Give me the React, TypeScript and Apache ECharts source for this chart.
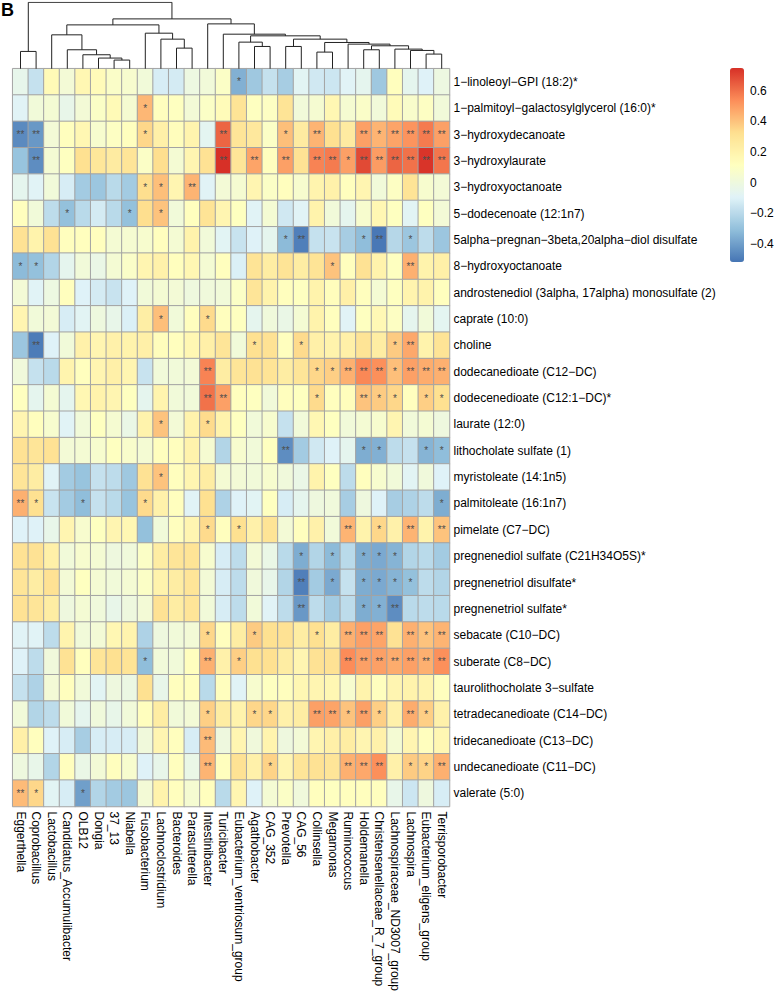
import React, { useEffect, useRef } from "react";
import * as echarts from "echarts";

const columns = [
  "Eggerthella", "Coprobacillus", "Lactobacillus", "Candidatus_Accumulibacter", "OLB12", "Dongia", "37_13",
  "Niabella", "Fusobacterium", "Lachnoclostridium", "Bacteroides", "Parasutterella", "Intestinibacter",
  "Turicibacter", "Eubacterium_ventriosum_group", "Agathobacter", "CAG_352", "Prevotella", "CAG_56",
  "Collinsella", "Megamonas", "Ruminococcus", "Holdemanella", "Christensenellaceae_R_7_group",
  "Lachnospiraceae_ND3007_group", "Lachnospira", "Eubacterium_eligens_group", "Terrisporobacter",
];

const rows = [
  "1−linoleoyl−GPI (18:2)*",
  "1−palmitoyl−galactosylglycerol (16:0)*",
  "3−hydroxydecanoate",
  "3−hydroxylaurate",
  "3−hydroxyoctanoate",
  "5−dodecenoate (12:1n7)",
  "5alpha−pregnan−3beta,20alpha−diol disulfate",
  "8−hydroxyoctanoate",
  "androstenediol (3alpha, 17alpha) monosulfate (2)",
  "caprate (10:0)",
  "choline",
  "dodecanedioate (C12−DC)",
  "dodecenedioate (C12:1−DC)*",
  "laurate (12:0)",
  "lithocholate sulfate (1)",
  "myristoleate (14:1n5)",
  "palmitoleate (16:1n7)",
  "pimelate (C7−DC)",
  "pregnenediol sulfate (C21H34O5S)*",
  "pregnenetriol disulfate*",
  "pregnenetriol sulfate*",
  "sebacate (C10−DC)",
  "suberate (C8−DC)",
  "taurolithocholate 3−sulfate",
  "tetradecanedioate (C14−DC)",
  "tridecanedioate (C13−DC)",
  "undecanedioate (C11−DC)",
  "valerate (5:0)",
];

// correlation values, one array per metabolite (row), in column order
const corr: number[][] = [
  [-0.05, -0.17, 0.15, 0.03, 0.17, 0.14, 0.08, 0.06, 0.02, -0.12, -0.13, -0.01, 0.02, 0.09, -0.35, -0.27, -0.17, -0.25, -0.08, -0.14, -0.15, -0.09, -0.06, -0.27, 0.12, -0.06, -0.1, -0.01],
  [-0.09, 0.02, 0.04, -0.04, 0.03, 0.09, 0.15, 0.05, 0.43, 0.12, 0.11, 0.03, 0.09, 0.14, 0.3, 0.11, 0.1, 0.3, 0.02, 0.05, 0.17, 0.05, 0.08, 0.02, 0.14, 0.07, 0.1, 0.02],
  [-0.46, -0.42, 0.03, 0.12, 0.17, 0.06, 0.1, 0.12, 0.35, 0.22, 0.13, 0.19, -0.07, 0.63, 0.29, 0.27, 0.09, 0.41, 0.25, 0.44, 0.32, 0.25, 0.49, 0.44, 0.48, 0.52, 0.58, 0.49],
  [-0.29, -0.45, 0.04, 0.11, 0.32, 0.28, 0.25, 0.29, 0.09, 0.33, 0.04, 0.18, 0.31, 0.75, 0.29, 0.48, 0.12, 0.49, 0.31, 0.56, 0.58, 0.49, 0.69, 0.5, 0.63, 0.6, 0.74, 0.59],
  [-0.06, -0.09, 0.02, -0.12, -0.26, -0.28, -0.2, -0.26, 0.33, 0.41, 0.18, 0.44, -0.09, 0.03, 0.05, 0.18, 0.09, 0.12, 0.06, 0.19, 0.21, 0.12, 0.18, 0.02, 0.1, 0.3, 0.06, 0.03],
  [0.12, 0.02, -0.19, -0.3, -0.2, -0.13, -0.2, -0.3, 0.33, 0.4, 0.02, 0.12, 0.3, 0.18, 0.11, -0.09, 0.04, -0.14, -0.09, 0.2, 0.02, -0.06, 0.06, 0.17, 0.11, -0.08, 0.11, 0.03],
  [0.31, 0.2, 0.31, 0.12, 0.12, 0.12, 0.04, 0.05, 0.06, 0.12, 0.04, 0.2, 0.02, -0.08, -0.16, -0.1, -0.06, -0.32, -0.49, -0.17, -0.16, -0.25, -0.31, -0.51, -0.21, -0.28, -0.19, -0.28],
  [-0.32, -0.3, -0.22, -0.06, 0.02, -0.03, 0.04, 0.08, 0.18, 0.21, 0.12, 0.17, 0.04, 0.12, -0.11, 0.3, 0.24, 0.3, 0.24, 0.3, 0.4, 0.12, 0.31, 0.2, 0.11, 0.45, 0.2, 0.22],
  [0.03, -0.09, -0.01, 0.12, -0.1, -0.13, -0.16, -0.1, 0.02, 0.04, 0.03, 0.0, 0.01, 0.02, 0.09, 0.29, 0.2, 0.12, 0.11, 0.2, 0.13, 0.22, 0.12, 0.04, 0.11, 0.19, 0.2, 0.12],
  [0.18, 0.02, 0.03, -0.12, -0.08, 0.0, -0.04, -0.11, 0.23, 0.41, 0.02, 0.12, 0.34, 0.12, 0.11, -0.06, 0.01, -0.03, 0.04, 0.2, 0.12, -0.09, 0.11, 0.16, 0.1, -0.06, 0.02, -0.07],
  [-0.28, -0.5, -0.1, 0.02, 0.21, 0.18, 0.21, 0.2, 0.22, 0.13, 0.12, 0.17, 0.22, 0.29, 0.02, 0.32, 0.31, 0.12, 0.34, 0.22, 0.2, 0.22, 0.3, 0.24, 0.38, 0.47, 0.2, 0.3],
  [0.01, -0.17, -0.2, 0.19, 0.12, 0.18, 0.22, 0.18, -0.16, 0.02, 0.02, 0.03, 0.56, 0.24, 0.29, 0.31, 0.3, 0.24, 0.29, 0.35, 0.37, 0.45, 0.55, 0.53, 0.41, 0.49, 0.46, 0.45],
  [0.11, -0.06, 0.04, -0.06, 0.17, 0.2, 0.18, 0.11, -0.06, 0.19, 0.02, 0.02, 0.6, 0.49, 0.12, 0.11, 0.02, 0.12, 0.11, 0.34, 0.12, 0.13, 0.4, 0.38, 0.35, 0.12, 0.37, 0.32],
  [0.18, 0.12, 0.06, -0.09, 0.02, 0.11, 0.05, -0.03, 0.2, 0.4, 0.03, 0.2, 0.34, 0.2, 0.11, 0.02, 0.06, -0.17, 0.02, 0.17, 0.11, 0.02, 0.04, 0.06, 0.18, 0.02, 0.04, 0.0],
  [0.31, 0.29, 0.31, 0.03, 0.04, 0.06, 0.11, 0.07, 0.04, 0.12, 0.12, 0.2, 0.05, -0.22, 0.06, 0.02, 0.11, -0.45, -0.26, -0.14, -0.1, -0.06, -0.36, -0.35, -0.19, -0.17, -0.34, -0.31],
  [0.29, 0.24, -0.09, -0.26, -0.29, -0.17, -0.19, -0.27, 0.31, 0.4, 0.12, 0.18, 0.24, 0.04, 0.03, 0.02, 0.06, 0.01, -0.03, 0.2, 0.11, -0.19, 0.12, 0.06, 0.02, -0.08, 0.01, -0.1],
  [0.45, 0.32, -0.16, -0.26, -0.31, -0.17, -0.2, -0.29, 0.34, 0.21, 0.12, -0.09, 0.32, -0.23, -0.1, -0.08, 0.11, -0.12, -0.06, 0.0, 0.01, -0.25, 0.0, -0.1, -0.25, -0.23, -0.19, -0.36],
  [-0.1, -0.1, -0.04, 0.18, 0.06, 0.11, 0.18, 0.17, -0.3, 0.02, 0.12, 0.18, 0.34, 0.12, 0.32, 0.21, 0.3, 0.03, 0.12, 0.21, 0.02, 0.44, 0.2, 0.35, 0.21, 0.44, 0.2, 0.4],
  [0.31, 0.31, 0.22, 0.02, 0.06, 0.04, 0.0, 0.01, 0.09, 0.24, 0.29, 0.3, 0.06, -0.12, -0.19, 0.03, -0.03, -0.2, -0.36, -0.22, -0.32, -0.2, -0.36, -0.37, -0.34, -0.22, -0.2, -0.26],
  [0.29, 0.24, 0.31, 0.03, 0.11, 0.04, 0.02, 0.04, 0.09, 0.2, 0.24, 0.29, 0.03, -0.12, -0.19, 0.01, -0.04, -0.22, -0.49, -0.26, -0.37, -0.17, -0.36, -0.37, -0.34, -0.3, -0.19, -0.22],
  [0.31, 0.29, 0.24, 0.0, 0.04, 0.01, -0.04, 0.0, 0.03, 0.31, 0.24, 0.29, 0.02, -0.12, -0.19, 0.02, -0.09, -0.19, -0.42, -0.19, -0.26, -0.19, -0.36, -0.35, -0.45, -0.2, -0.19, -0.2],
  [-0.09, -0.09, -0.19, 0.19, 0.02, 0.03, 0.17, 0.19, -0.23, 0.0, 0.02, 0.03, 0.35, 0.12, 0.24, 0.38, 0.32, 0.31, 0.24, 0.32, 0.24, 0.45, 0.49, 0.48, 0.31, 0.45, 0.4, 0.44],
  [-0.1, -0.19, 0.01, 0.31, 0.12, 0.29, 0.32, 0.3, -0.31, 0.02, 0.02, 0.12, 0.45, 0.21, 0.37, 0.32, 0.32, 0.24, 0.18, 0.31, 0.31, 0.54, 0.49, 0.49, 0.46, 0.49, 0.45, 0.53],
  [-0.17, -0.23, 0.03, 0.12, 0.02, -0.08, 0.0, -0.02, 0.32, -0.04, 0.12, 0.12, -0.2, 0.12, -0.09, 0.06, 0.11, 0.12, 0.17, 0.18, 0.17, 0.06, 0.2, 0.12, 0.18, 0.2, 0.19, 0.12],
  [0.02, -0.22, -0.19, 0.02, -0.06, 0.01, -0.04, 0.02, 0.12, 0.24, 0.02, 0.03, 0.37, 0.24, 0.2, 0.35, 0.35, 0.21, 0.24, 0.49, 0.48, 0.4, 0.49, 0.37, 0.21, 0.46, 0.37, 0.21],
  [0.22, 0.12, -0.1, -0.12, -0.25, -0.12, -0.12, -0.12, 0.01, 0.18, 0.12, -0.12, 0.42, 0.0, 0.18, 0.01, 0.19, 0.0, 0.03, 0.18, 0.22, 0.24, 0.18, 0.21, 0.04, 0.18, 0.12, 0.17],
  [0.0, -0.04, -0.22, 0.12, -0.03, 0.03, 0.12, 0.06, -0.1, -0.04, 0.12, -0.03, 0.44, 0.12, 0.31, 0.21, 0.36, 0.18, 0.29, 0.31, 0.29, 0.45, 0.47, 0.53, 0.21, 0.38, 0.36, 0.45],
  [0.42, 0.35, -0.08, -0.12, -0.4, -0.22, -0.26, -0.28, 0.03, 0.2, 0.12, 0.05, 0.12, -0.2, 0.18, -0.1, 0.04, 0.09, 0.01, 0.12, 0.11, 0.12, 0.12, 0.12, -0.04, -0.15, 0.0, -0.12],
];

// significance: number of stars per cell, one string per row, one digit per column
const stars = [
  "0000000000000010000000000000",
  "0000000010000000000000000000",
  "2200000010000200010200212222",
  "0200000000000202020221222222",
  "0000000011020000000000000000",
  "0001000101000000000000000000",
  "0000000000000000012000120100",
  "1100000000000000000010000200",
  "0000000000000000000000000000",
  "0000000001001000000000000000",
  "0200000000000001001000001200",
  "0000000000002000000112221222",
  "0000000000002200000100211011",
  "0000000001001000000000000000",
  "0000000000000000020000110011",
  "0000000001000000000000000000",
  "2100100010000000000000000001",
  "0000000000001010000002010202",
  "0000000000000000001010111000",
  "0000000000000000002010111100",
  "0000000000000000002000112000",
  "0000000000001001000102220212",
  "0000000010002010000002222222",
  "0000000000000000000000000000",
  "0000000000001001100221210210",
  "0000000000002000000000000000",
  "0000000000002000100002220112",
  "2100100000000000000000000000",
];

// column dendrogram merges: [childA, childB, height]; child >= 0 is a column index,
// child < 0 refers to merge number (-child - 1)
const merges: [number, number, number][] = [
  [6, 7, 0.13],
  [5, -1, 0.16],
  [4, -2, 0.21],
  [3, -3, 0.285],
  [2, -4, 0.51],
  [10, 11, 0.31],
  [9, -6, 0.445],
  [8, -7, 0.535],
  [-5, -8, 0.66],
  [15, 16, 0.335],
  [14, -10, 0.4],
  [17, 18, 0.335],
  [19, 20, 0.25],
  [26, 27, 0.22],
  [25, -14, 0.275],
  [24, -15, 0.295],
  [22, 23, 0.285],
  [-17, -16, 0.345],
  [21, -18, 0.37],
  [-13, -19, 0.395],
  [-12, -20, 0.445],
  [-11, -21, 0.495],
  [13, -22, 0.52],
  [12, -23, 0.675],
  [-9, -24, 0.75],
  [0, 1, 0.26],
  [-26, -25, 1.0],
];

const colorbarTicks = [-0.4, -0.2, 0, 0.2, 0.4, 0.6];
const valueMin = -0.52;
const valueMax = 0.75;
const palette = ["#4575B4", "#91BFDB", "#E0F3F8", "#FFFFBF", "#FEE090", "#FC8D59", "#D73027"];

const FONT = "'Liberation Sans', Arial, Helvetica, sans-serif";

export default function App() {
  const ref = useRef<HTMLDivElement>(null);

  useEffect(() => {
    if (!ref.current) return;
    const chart = echarts.init(ref.current, null, { renderer: "svg" });

    const heatData: number[][] = [];
    rows.forEach((_, r) => columns.forEach((_, c) => heatData.push([c, r, corr[r][c]])));

    // dendrogram geometry from merges
    const pos: { x: number; h: number }[] = [];
    const refPos = (k: number) => (k >= 0 ? { x: k + 0.5, h: 0 } : pos[-k - 1]);
    const links: { coords: number[][] }[] = [];
    merges.forEach(([a, b, h]) => {
      const pa = refPos(a);
      const pb = refPos(b);
      pos.push({ x: (pa.x + pb.x) / 2, h });
      links.push({ coords: [[pa.x, pa.h], [pa.x, h], [pb.x, h], [pb.x, pb.h]] });
    });

    const heatLeft = 12.7;
    const heatTop = 68.7;
    const cellW = 15.6;
    const cellH = 26.35;

    chart.setOption({
      animation: false,
      textStyle: { fontFamily: FONT },
      graphic: [
        {
          type: "text",
          left: 1,
          top: 1,
          style: { text: "B", font: `bold 18px ${FONT}`, fill: "#000" },
        },
      ],
      grid: [
        {
          left: heatLeft,
          top: heatTop,
          width: cellW * columns.length,
          height: cellH * rows.length,
          outerBoundsMode: "none",
        },
        {
          left: heatLeft,
          top: 2.3,
          width: cellW * columns.length,
          height: heatTop - 2.3,
          outerBoundsMode: "none",
        },
        {
          left: 730,
          top: 68,
          width: 14,
          height: 194,
          outerBoundsMode: "none",
        },
      ],
      xAxis: [
        {
          type: "category",
          gridIndex: 0,
          data: columns,
          position: "bottom",
          axisLine: { show: false },
          axisTick: { show: false },
          splitLine: { show: false },
          axisLabel: {
            rotate: -90,
            interval: 0,
            margin: 5,
            fontSize: 12,
            color: "#000",
            fontFamily: FONT,
          },
        },
        { type: "value", gridIndex: 1, min: 0, max: columns.length, show: false },
        { type: "value", gridIndex: 2, min: 0, max: 1, show: false },
      ],
      yAxis: [
        {
          type: "category",
          gridIndex: 0,
          data: rows,
          inverse: true,
          position: "right",
          axisLine: { show: false },
          axisTick: { show: false },
          splitLine: { show: false },
          axisLabel: { interval: 0, margin: 4, fontSize: 12, color: "#000", fontFamily: FONT },
        },
        { type: "value", gridIndex: 1, min: 0, max: 1, show: false },
        {
          type: "value",
          gridIndex: 2,
          min: valueMin,
          max: valueMax,
          position: "right",
          axisLine: { show: false },
          axisTick: { show: false },
          splitLine: { show: false },
          axisLabel: {
            customValues: colorbarTicks,
            margin: 6,
            fontSize: 12,
            color: "#000",
            fontFamily: FONT,
            formatter: (v: number) => (Math.abs(v) < 1e-9 ? "0" : v.toFixed(1).replace("-", "−")),
          },
        },
      ],
      visualMap: {
        type: "continuous",
        seriesIndex: 0,
        dimension: 2,
        min: valueMin,
        max: valueMax,
        calculable: false,
        hoverLink: false,
        inRange: { color: palette },
        left: 730,
        top: 68,
        itemWidth: 14,
        itemHeight: 194,
        padding: 0,
        orient: "vertical",
      },
      series: [
        {
          type: "heatmap",
          xAxisIndex: 0,
          yAxisIndex: 0,
          data: heatData,
          silent: true,
          itemStyle: { borderColor: "#a3a3a3", borderWidth: 1 },
          emphasis: { disabled: true },
          label: {
            show: true,
            fontSize: 10,
            color: "#4d4d4d",
            fontFamily: FONT,
            formatter: (p: any) => {
              const s = stars[p.value[1]][p.value[0]];
              return s === "2" ? "**" : s === "1" ? "*" : "";
            },
          },
        },
        {
          type: "lines",
          coordinateSystem: "cartesian2d",
          xAxisIndex: 1,
          yAxisIndex: 1,
          polyline: true,
          silent: true,
          data: links,
          lineStyle: { color: "#222", width: 1, opacity: 1 },
        },
      ],
    });

    return () => chart.dispose();
  }, []);

  return (
    <div
      ref={ref}
      style={{ position: "absolute", left: 0, top: 0, width: 783, height: 1002, background: "#fff" }}
    />
  );
}
